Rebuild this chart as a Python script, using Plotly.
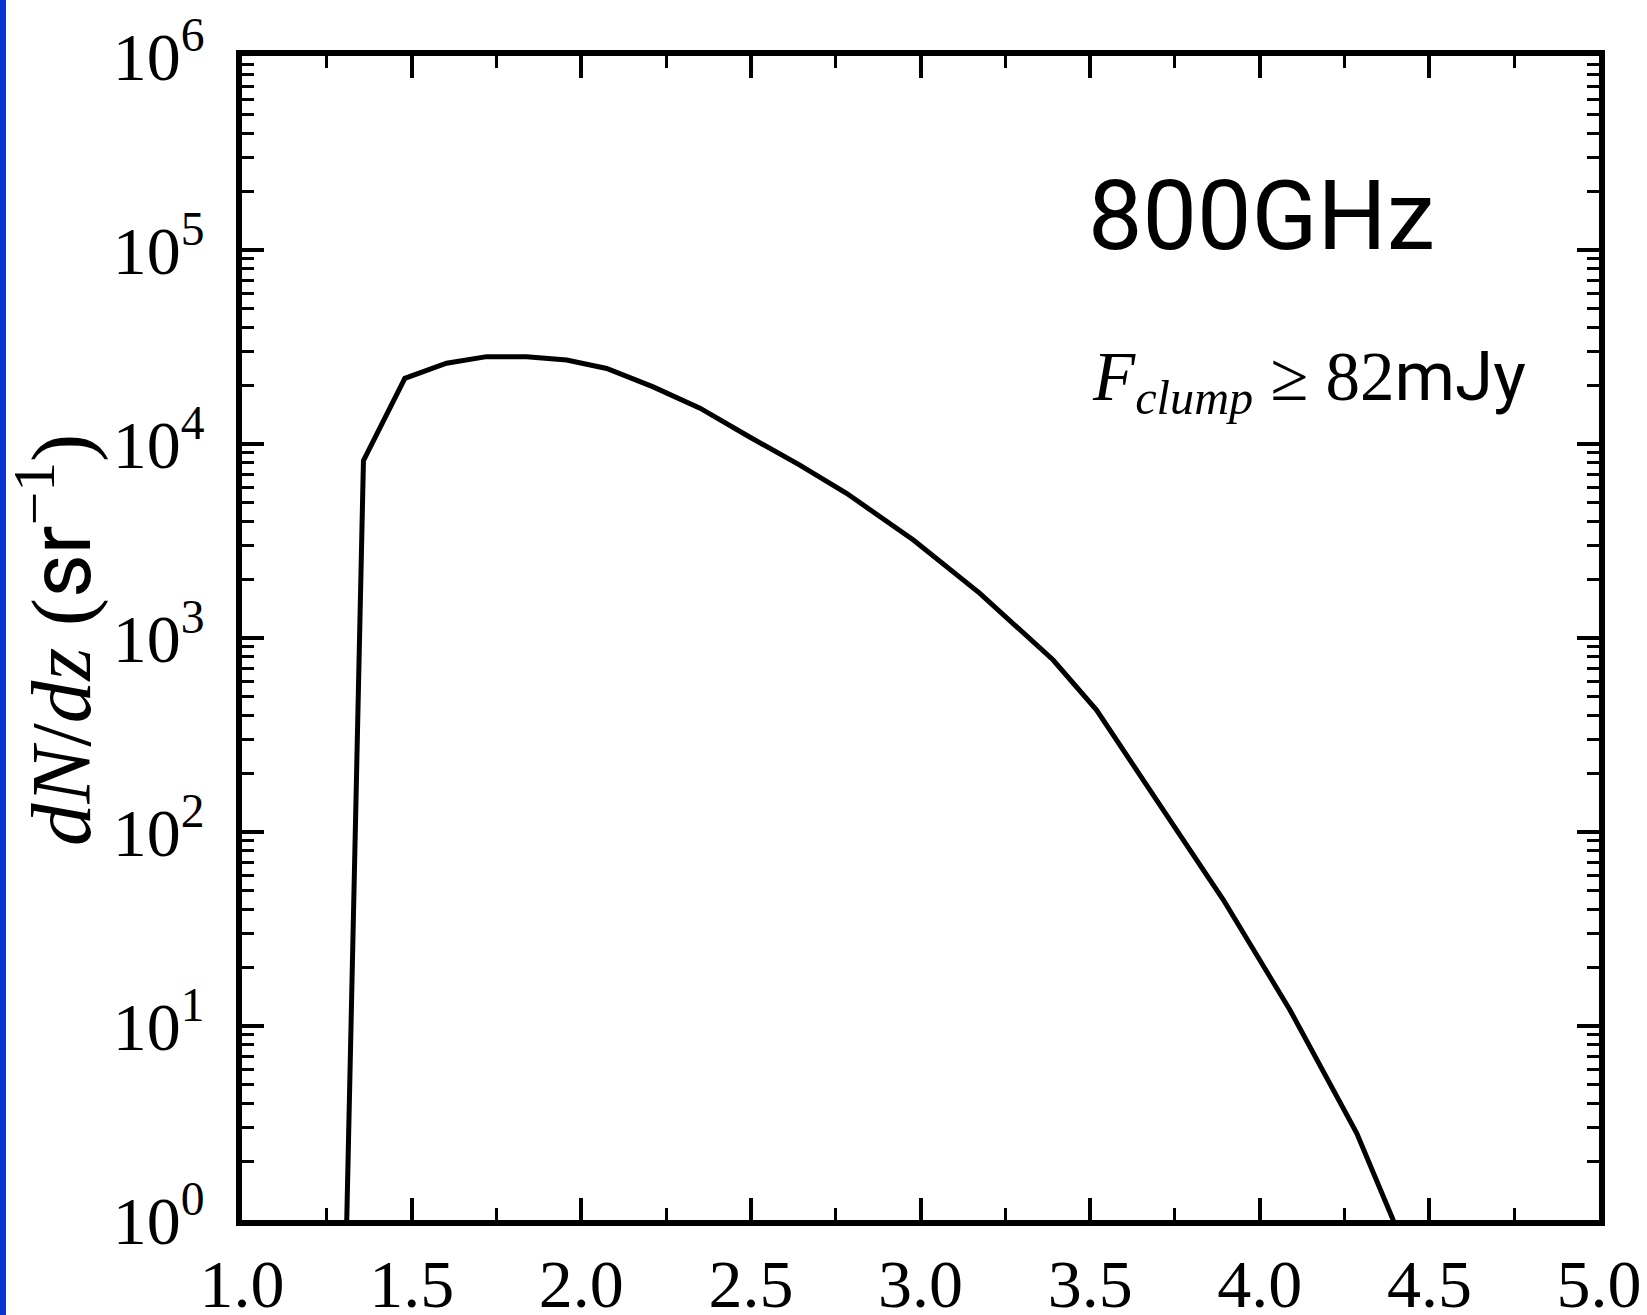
import plotly.graph_objects as go

# Redshift distribution of clumps above the flux cut at 800 GHz
z_vals = [1.305, 1.358, 1.480, 1.603, 1.721, 1.839, 1.957, 2.075, 2.212, 2.350,
          2.495, 2.643, 2.782, 2.979, 3.175, 3.391, 3.519, 3.647, 3.696, 3.893,
          4.089, 4.286, 4.450]
dndz_vals = [0.5, 8200, 21800, 26100, 28200, 28200, 27100, 24500, 19700, 15300,
             10900, 7800, 5570, 3200, 1700, 770, 425, 193, 146, 44.6,
             12.1, 2.8, 0.58]

x_tick_vals = [1.0, 1.5, 2.0, 2.5, 3.0, 3.5, 4.0, 4.5, 5.0]
x_tick_text = ["1.0", "1.5", "2.0", "2.5", "3.0", "3.5", "4.0", "4.5", "5.0"]
y_tick_vals = [1, 10, 100, 1e3, 1e4, 1e5, 1e6]
y_tick_text = ["10<sup>0</sup>", "10<sup>1</sup>", "10<sup>2</sup>", "10<sup>3</sup>",
               "10<sup>4</sup>", "10<sup>5</sup>", "10<sup>6</sup>"]

W, H = 1647, 1315
ML, MR, MT, MB = 242, 48, 56, 95
PW = W - ML - MR
PH = H - MT - MB

SERIF = "Liberation Serif, DejaVu Serif, serif"
SANS = "Roboto, Liberation Sans, sans-serif"

def px_x(p):
    return (p - ML) / PW

def px_y(p):
    return (H - MB - p) / PH

fig = go.Figure()
fig.add_trace(go.Scatter(
    x=z_vals, y=dndz_vals, mode="lines",
    line=dict(color="black", width=5),
    showlegend=False,
))

axis_common = dict(
    showline=True, linecolor="black", linewidth=5.5, mirror="ticks",
    ticks="inside", tickcolor="black", showgrid=False, zeroline=False,
    automargin=False,
    tickfont=dict(family=SERIF, size=68, color="black"),
)

fig.update_xaxes(
    range=[1, 5], tickvals=x_tick_vals, ticktext=x_tick_text,
    ticklen=22, tickwidth=4,
    minor=dict(ticks="inside", dtick=0.25, ticklen=12, tickwidth=3, tickcolor="black"),
    ticklabelstandoff=0,
    **axis_common,
)
fig.update_yaxes(
    type="log", range=[0, 6], tickvals=y_tick_vals, ticktext=y_tick_text,
    ticklen=22, tickwidth=4,
    minor=dict(ticks="inside", dtick="D1", ticklen=12, tickwidth=3, tickcolor="black"),
    ticklabelstandoff=18,
    **axis_common,
)

fig.update_layout(
    width=W, height=H,
    margin=dict(l=ML, r=MR, t=MT, b=MB),
    plot_bgcolor="white", paper_bgcolor="white",
    shapes=[dict(
        type="rect", xref="paper", yref="paper",
        x0=px_x(-2), x1=px_x(6), y0=px_y(H + 5), y1=px_y(-5),
        fillcolor="#0b33d4", line=dict(width=0), layer="below",
    )],
    annotations=[
        dict(
            text="800GHz", xref="paper", yref="paper",
            x=px_x(1086), y=px_y(216), xanchor="left", yanchor="middle",
            showarrow=False, font=dict(family=SANS, size=97, color="black"),
        ),
        dict(
            text="<i>F</i><sub><i>clump</i></sub> ≥ 82<span style='font-family:Roboto'>mJy</span>",
            xref="paper", yref="paper",
            x=px_x(1090), y=px_y(380), xanchor="left", yanchor="middle",
            showarrow=False, font=dict(family=SERIF, size=69, color="black"),
        ),
        dict(
            text="<i>dN</i>/<i>dz</i> (<span style='font-family:Roboto'>sr</span><sup>−1</sup>)",
            xref="paper", yref="paper",
            x=px_x(56), y=px_y(640), xanchor="center", yanchor="middle",
            textangle=-90, showarrow=False,
            font=dict(family=SERIF, size=85, color="black"),
        ),
    ],
)

fig.write_html("out.html")
